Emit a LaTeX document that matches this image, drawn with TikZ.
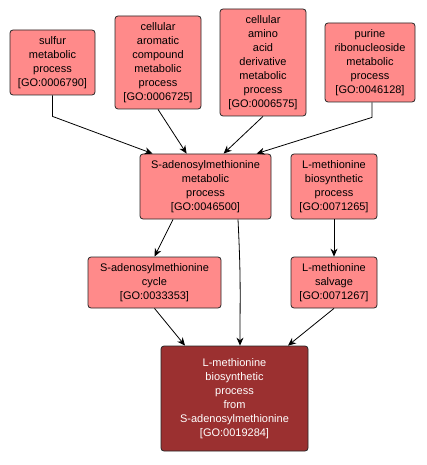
\documentclass[tikz,border=0pt]{standalone}
\usepackage{fontspec}
\setmainfont{Liberation Sans}
\usetikzlibrary{arrows.meta,positioning,calc}
\definecolor{goterm}{HTML}{FF8A8A}
\definecolor{goquery}{HTML}{9B3030}

\begin{document}
\begin{tikzpicture}[x=1pt, y=-1pt,
  box/.style={draw=black!85, line width=0.8pt, rounded corners=3pt, fill=goterm, align=center, inner sep=0pt, font=\fontsize{11}{14}\selectfont},
  query/.style={box, fill=goquery, text=white},
  arrow/.style={-{Stealth[length=8pt,width=7pt]}, line width=0.8pt, black}
]
\useasboundingbox (0,0) rectangle (427,465);

% Top row: parent terms
\node[box, minimum width=85pt, minimum height=65pt] (sulfur) at (52.5,62.5) {sulfur\\metabolic\\process\\{[GO:0006790]}};
\node[box, minimum width=86pt, minimum height=93pt] (arom) at (158,62.5) {cellular\\aromatic\\compound\\metabolic\\process\\{[GO:0006725]}};
\node[box, minimum width=86pt, minimum height=107pt] (amino) at (263,62.5) {cellular\\amino\\acid\\derivative\\metabolic\\process\\{[GO:0006575]}};
\node[box, minimum width=90pt, minimum height=79pt] (purine) at (370,62.5) {purine\\ribonucleoside\\metabolic\\process\\{[GO:0046128]}};

% Middle rows
\node[box, minimum width=131pt, minimum height=65pt] (samm) at (205.5,186.5) {S-adenosylmethionine\\metabolic\\process\\{[GO:0046500]}};
\node[box, minimum width=86pt, minimum height=65pt] (lmetb) at (334,186.5) {L-methionine\\biosynthetic\\process\\{[GO:0071265]}};
\node[box, minimum width=133pt, minimum height=51pt] (samc) at (154.5,282.5) {S-adenosylmethionine\\cycle\\{[GO:0033353]}};
\node[box, minimum width=86pt, minimum height=51pt] (lmets) at (334,282.5) {L-methionine\\salvage\\{[GO:0071267]}};

% Query term
\node[query, minimum width=147pt, minimum height=105pt] (lmetsam) at (234.5,398.5) {L-methionine\\biosynthetic\\process\\from\\S-adenosylmethionine\\{[GO:0019284]}};

% Connections
\draw[arrow] (sulfur.south) -- ++(0,21) -- ([xshift=13pt]samm.north west);
\draw[arrow] (arom.south) -- ([xshift=47pt]samm.north west);
\draw[arrow] (amino.south) -- ([xshift=84pt]samm.north west);
\draw[arrow] ([xshift=2pt]purine.south) -- ++(0,15) -- ([xshift=117pt]samm.north west);
\draw[arrow] ([xshift=-32.5pt]samm.south) -- (samc.north);
\draw[arrow] ([xshift=32.5pt]samm.south) .. controls +(3,60) and +(0,-50) .. ([xshift=5.5pt]lmetsam.north);
\draw[arrow] (lmetb) -- (lmets);
\draw[arrow] (samc.south) -- ([xshift=-49.5pt]lmetsam.north);
\draw[arrow] (lmets.south) -- ([xshift=53.5pt]lmetsam.north);

\end{tikzpicture}
\end{document}
